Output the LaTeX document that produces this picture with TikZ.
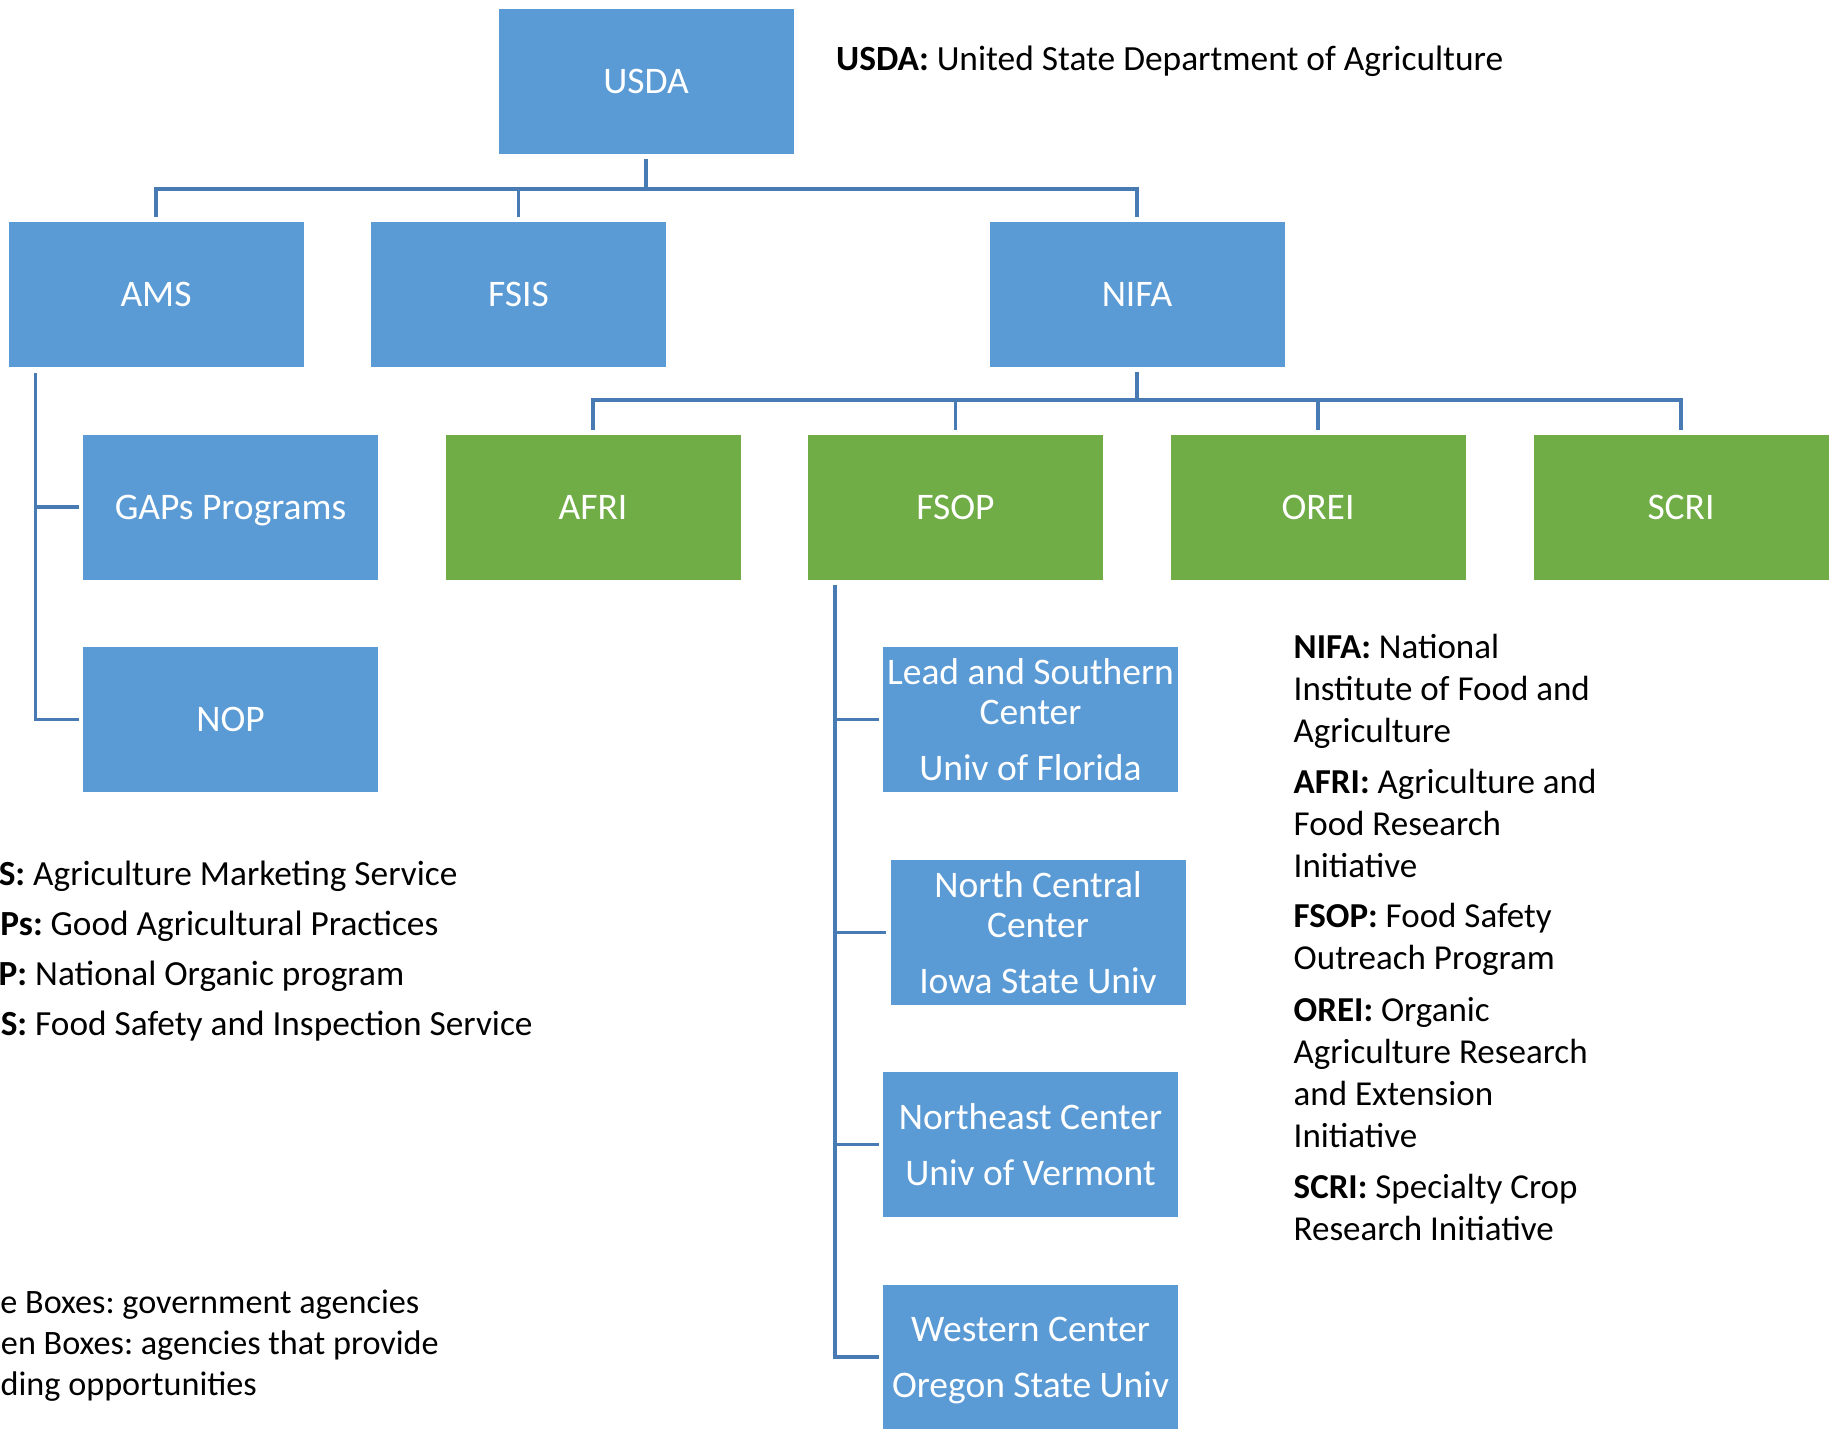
\documentclass[tikz,border=0pt]{standalone}
\usepackage{fontspec}
\setmainfont{Carlito}
\definecolor{boxblue}{RGB}{91,155,213}
\definecolor{boxgreen}{RGB}{112,173,71}
\definecolor{linkblue}{RGB}{72,123,180}
\newcommand\boxfont{\fontsize{37.5}{40}\selectfont\frenchspacing}
\newcommand\legfont{\fontsize{35}{42}\selectfont\frenchspacing}
\newcommand\topfont{\fontsize{35.4}{42}\selectfont\frenchspacing}
\newcommand\leftlegfont{\fontsize{35.3}{50}\selectfont\frenchspacing}
\newcommand\keyfont{\fontsize{34.2}{41}\selectfont\frenchspacing}
\newcommand\vlines[1]{\vtop{\halign{##\hfil\cr#1\crcr}}}
\begin{document}
\begin{tikzpicture}[x=1pt,y=-1pt,
  box/.style={rectangle, minimum width=296pt, minimum height=146pt, inner sep=0pt,
    draw=white, line width=0.8pt, text=white, font=\boxfont},
  one/.style={text height=24.1pt, text depth=0pt},
  multi/.style={align=center},
  agency/.style={box, fill=boxblue},
  fund/.style={box, fill=boxgreen},
  link/.style={draw=linkblue, line width=3.3pt},
  legend/.style={anchor=base west, inner sep=0pt, text=black, font=\legfont}]
\useasboundingbox (0,0) rectangle (1829,1428);
\clip (0,0) rectangle (1829,1428);

% boxes
\node[agency, one] (usda) at (646,81.5) {USDA};
\node[agency, one] (ams) at (156,294.5) {AMS};
\node[agency, one] (fsis) at (518.5,294.5) {FSIS};
\node[agency, one] (nifa) at (1137,294.5) {NIFA};
\node[agency, one] (gaps) at (230.5,507) {GAPs Programs};
\node[fund, one] (afri) at (593,507) {AFRI};
\node[fund, one] (fsop) at (955.5,507) {FSOP};
\node[fund, one] (orei) at (1318,507) {OREI};
\node[fund, one] (scri) at (1681,507) {SCRI};
\node[agency, one] (nop) at (230.5,719.5) {NOP};
\node[agency, multi] (lead) at (1030.5,719.5) {Lead and Southern\\Center\\[16pt]Univ of Florida};
\node[agency, multi] (ncc) at (1038,932.5) {North Central\\Center\\[16pt]Iowa State Univ};
\node[agency, multi] (nec) at (1030.5,1144.5) {Northeast Center\\[16pt]Univ of Vermont};
\node[agency, multi] (wc) at (1030.5,1357) {Western Center\\[16pt]\smash{Oregon State Univ}};

% connectors
\coordinate (busU) at (646,189);
\coordinate (busN) at (1137,400);
\draw[link, shorten <=4pt] (usda.south) -- (busU);
\draw[link, shorten <=4pt, shorten >=4pt] (ams.north) |- (busU) -| (nifa.north);
\draw[link, shorten >=4pt] (busU) -| (fsis.north);
\draw[link, shorten <=4pt] (nifa.south) -- (busN);
\draw[link, shorten <=4pt, shorten >=4pt] (afri.north) |- (busN) -| (scri.north);
\draw[link, shorten >=4pt] (busN) -| (fsop.north);
\draw[link, shorten >=4pt] (busN) -| (orei.north);
\draw[link, shorten >=3.5pt] ([xshift=28pt,yshift=-5pt]ams.south west) |- (gaps.west);
\draw[link, shorten >=3.5pt] ([xshift=28pt,yshift=-5pt]ams.south west) |- (nop.west);
\draw[link, shorten >=3.5pt] ([xshift=28pt,yshift=-5pt]fsop.south west) |- (lead.west);
\draw[link, shorten >=3.5pt] ([xshift=28pt,yshift=-5pt]fsop.south west) |- (ncc.west);
\draw[link, shorten >=3.5pt] ([xshift=28pt,yshift=-5pt]fsop.south west) |- (nec.west);
\draw[link, shorten >=3.5pt] ([xshift=28pt,yshift=-5pt]fsop.south west) |- (wc.west);

% legends
\node[legend, font=\topfont] (usdaL) at (836,70.5) {\textbf{USDA:} United State Department of Agriculture};
\node[legend] (nifaL) at (1293.5,658) {\vlines{\textbf{NIFA:} National\cr Institute of Food and\cr Agriculture}};
\node[legend] (afriL) at (1293.5,793) {\vlines{\textbf{AFRI:} Agriculture and\cr Food Research\cr Initiative}};
\node[legend] (fsopL) at (1293.5,927.5) {\vlines{\textbf{FSOP:} Food Safety\cr Outreach Program}};
\node[legend] (oreiL) at (1293.5,1021) {\vlines{\textbf{OREI:} Organic\cr Agriculture Research\cr and Extension\cr Initiative}};
\node[legend] (scriL) at (1293.5,1198.5) {\vlines{\textbf{SCRI:} Specialty Crop\cr Research Initiative}};

\node[legend, font=\leftlegfont] (amsL) at (33,885.7) {\llap{\textbf{S:} }Agriculture Marketing Service};
\node[legend, font=\leftlegfont] (gapsL) at (50.5,935.7) {\llap{\textbf{Ps:} }Good Agricultural Practices};
\node[legend, font=\leftlegfont] (nopL) at (35,985.7) {\llap{\textbf{P:} }National Organic program};
\node[legend, font=\leftlegfont] (fsisL) at (35,1035.7) {\llap{\textbf{S:} }Food Safety and Inspection Service};

\node[legend, font=\keyfont] (blueL) at (25,1313.8) {\llap{e }Boxes: government agencies};
\node[legend, font=\keyfont] (greenL) at (43.5,1354.8) {\llap{en }Boxes: agencies that provide};
\node[legend, font=\keyfont] (fundL) at (0.5,1395.8) {ding opportunities};
\end{tikzpicture}
\end{document}
